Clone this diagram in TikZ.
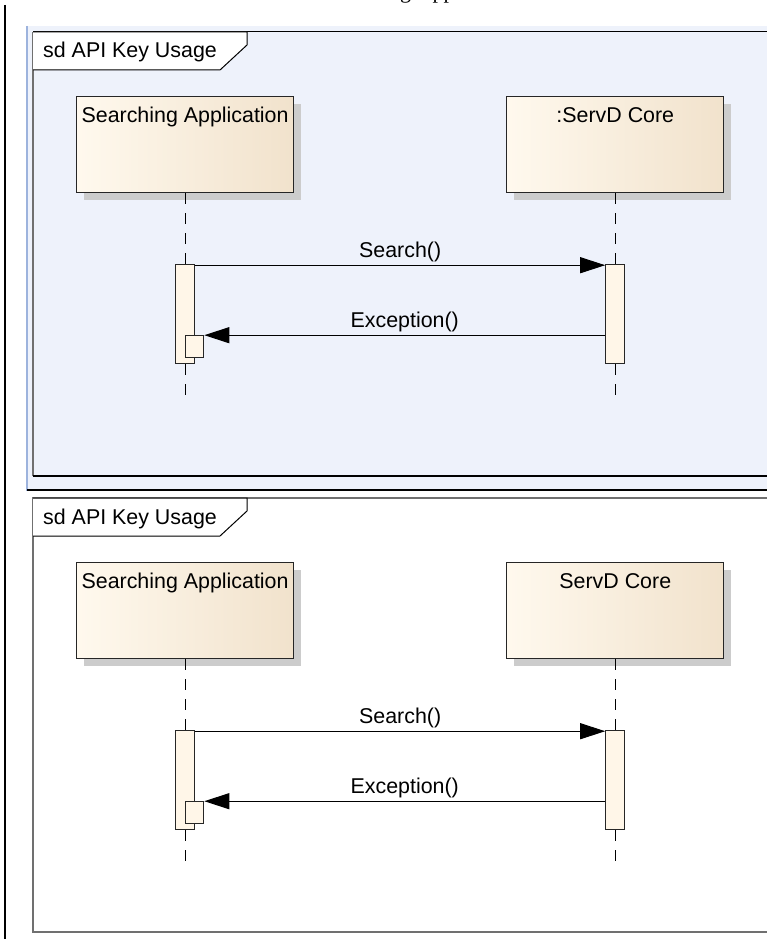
\documentclass[tikz,border=0pt]{standalone}
\usepackage{fontspec}
\setmainfont{Liberation Sans}
\newfontfamily\captionfont{Liberation Serif}
\usetikzlibrary{
    positioning,    % For relative node placement (right=of, etc.)
    arrows.meta,    % For the filled Triangle message tips
    shadows         % For the drop shadow of the lifeline boxes
}
\definecolor{panelblue}{RGB}{238, 242, 251}
\definecolor{paneledge}{RGB}{157, 179, 221}
\definecolor{framegray}{RGB}{112, 112, 112}
\definecolor{boxleft}{RGB}{255, 249, 238}
\definecolor{boxright}{RGB}{241, 226, 204}
\definecolor{actfill}{RGB}{255, 246, 232}

\begin{document}
\begin{tikzpicture}[
    x=1pt, y=-1pt, % One unit per pixel, y pointing down
    >={Triangle[length=25pt, width=16pt]}, % Filled message tip
    % Styles
    uml_font/.style={font=\fontsize{21.4}{24}\selectfont},
    life_box/.style={ % Style for the lifeline head boxes
        rectangle,
        draw=black!85,
        line width=1.2pt,
        left color=boxleft,
        right color=boxright,
        minimum width=217pt,
        minimum height=96pt,
        inner sep=0pt,
        drop shadow={shadow xshift=7pt, shadow yshift=-7pt, fill=black!20, opacity=1}
    },
    life_text/.style={ % Lifeline name, centered at the top of the box
        uml_font,
        anchor=base,
        inner sep=0pt
    },
    act_box/.style={ % Style for the activation bars
        rectangle,
        draw=black!85,
        line width=1.2pt,
        fill=actfill,
        inner sep=0pt,
        minimum width=19pt,
        minimum height=99pt
    },
    ret_box/.style={ % Small box where the reply lands
        act_box,
        minimum width=18pt,
        minimum height=22pt
    },
    lifeline/.style={
        line width=1pt,
        dash pattern=on 11pt off 9pt
    },
    msg/.style={
        ->, line width=1pt
    },
    msg_label/.style={ % Style for the message names
        uml_font,
        inner sep=0pt
    },
    tab_text/.style={
        uml_font,
        anchor=base west,
        inner sep=0pt
    }
]
\clip (0,0) rectangle (767,939);

% --- Caption line above, cut off by the page edge ---
\node[font=\captionfont\fontsize{22}{24}\selectfont, anchor=base west, inner sep=0pt] (caption) at (323,-1) {Searching Application};

% --- Left margin rule ---
\draw[line width=2pt] (5,5) -- (5,939);

% --- Panel 1: blue background and frame ---
\fill[panelblue] (27,26) rectangle (767,490);
\draw[paneledge, line width=1.5pt] (27,26) -- (27,491);
\draw[framegray, line width=1.5pt] (33,476) -- (33,32);
\draw[line width=1pt] (33,32) -- (767,32);
\draw[line width=1.2pt] (33,476) -- (767,476);
\draw[line width=2.5pt] (27,490) -- (767,490);

% --- Panel 2: white frame ---
\draw[framegray, line width=1.5pt] (767,498) -- (33,498) -- (33,932) -- (767,932);

% --- Both sequence diagrams ---
\foreach \off/\core/\p in {0/{:ServD Core}/a, 466/{ServD Core}/b} {
\begin{scope}[shift={(0,\off)}]
    % Frame tab
    \draw[fill=white, line width=1pt] (33,32) -- (247,32) -- (247,45) -- (220,70) -- (33,70);
    \node[tab_text] (tab\p) at (43,58) {sd API Key Usage};

    % Lifeline heads
    \node[life_box, anchor=north west] (app\p) at (76,96) {};
    \node[life_box] (core\p) [right=212pt of app\p] {};
    \node[life_text] at ([yshift=-26pt]app\p.north) {Searching Application};
    \node[life_text] at ([yshift=-26pt]core\p.north) {\core};

    % Activation bars
    \node[act_box] (actA\p) [below=71pt of app\p] {};
    \node[act_box] (actB\p) [below=71pt of core\p] {};
    \node[ret_box] (ret\p) [below right=71pt and 0pt of actA\p.north] {};

    % Lifelines
    \coordinate[below=35pt of actA\p] (endA\p);
    \coordinate[below=35pt of actB\p] (endB\p);
    \draw[lifeline] (app\p.south) -- (actA\p.north);
    \draw[lifeline] (actA\p.south) -- (endA\p);
    \draw[lifeline] (core\p.south) -- (actB\p.north);
    \draw[lifeline] (actB\p.south) -- (endB\p);

    % Messages
    \draw[msg] ([yshift=-1pt]actA\p.north east) -- node[msg_label, above=3pt] {Search()} ([yshift=-1pt]actB\p.north west);
    \draw[msg] (ret\p.north east -| actB\p.west) -- node[msg_label, above=3pt] {Exception()} (ret\p.north east);
\end{scope}
}

\end{tikzpicture}
\end{document}
